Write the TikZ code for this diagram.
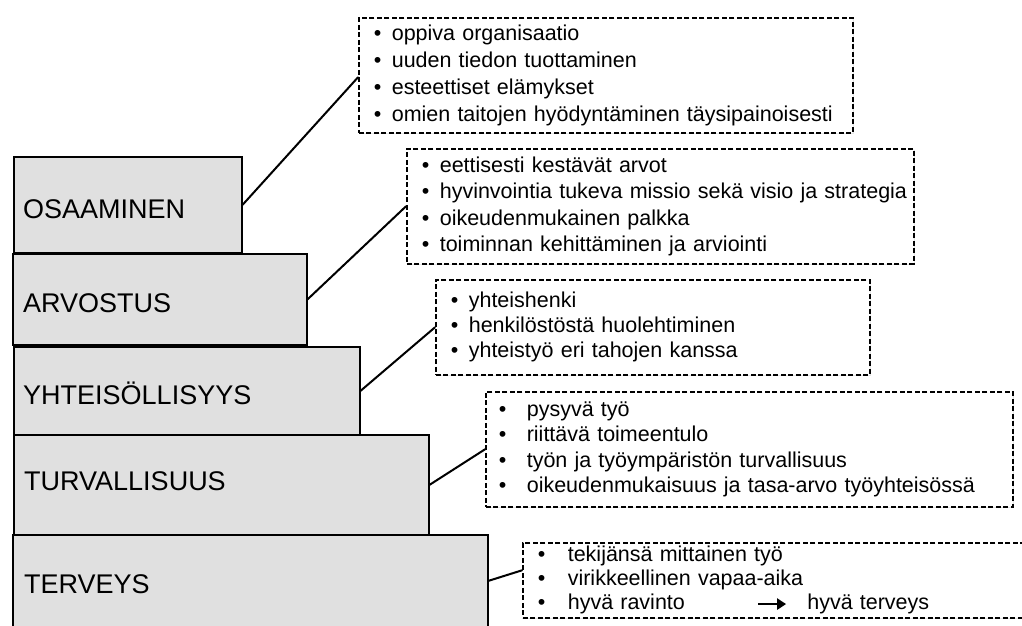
\documentclass[tikz,border=0pt]{standalone}
\usepackage{fontspec}
\setmainfont{Liberation Sans}
\usetikzlibrary{shadows,arrows.meta,calc}
\definecolor{boxgray}{RGB}{224,224,224}
\newcommand\blt[2]{\hspace*{#1}\makebox[#2][l]{•}}
\begin{document}
\begin{tikzpicture}[x=1pt,y=-1pt,
  levelbox/.style={draw=black,line width=1.6pt,fill=boxgray,anchor=north west,inner sep=0pt,
    drop shadow={shadow xshift=1.5pt,shadow yshift=-1.5pt,opacity=0.3}},
  levellabel/.style={anchor=base west,inner sep=0pt,font=\fontsize{27}{32}\selectfont},
  listbox/.style={draw=black,line width=1.6pt,dash pattern=on 5pt off 2.5pt,fill=white,
    anchor=north west,align=left,inner sep=0pt,
    drop shadow={shadow xshift=1.5pt,shadow yshift=-1.5pt,opacity=0.2}},
  link/.style={line width=2pt,line cap=round}]
\path[use as bounding box] (0,0) rectangle (1022,625);
\clip (0,0) rectangle (1022,625);

% level boxes
\node[levelbox,minimum width=228pt,minimum height=96pt] (osa) at (13,156) {};
\node[levelbox,minimum width=294pt,minimum height=91pt] (arv) at (12,253) {};
\node[levelbox,minimum width=346pt,minimum height=88pt] (yht) at (13,346) {};
\node[levelbox,minimum width=415pt,minimum height=100pt] (tur) at (13,434) {};
\node[levelbox,minimum width=475pt,minimum height=100pt] (ter) at (12,534) {};

\node[levellabel] (osaL) at (23,218) {OSAAMINEN};
\node[levellabel] (arvL) at (23,312) {ARVOSTUS};
\node[levellabel] (yhtL) at (23,404) {YHTEISÖLLISYYS};
\node[levellabel] (turL) at (24,490) {TURVALLISUUS};
\node[levellabel] (terL) at (24,593) {TERVEYS};

% list boxes
\node[listbox,minimum width=494pt,minimum height=115pt,text width=494pt,
  font=\fontsize{21.5}{27}\selectfont] (b1) at (358,17)
  {\blt{15pt}{18pt}oppiva organisaatio\\
   \blt{15pt}{18pt}uuden tiedon tuottaminen\\
   \blt{15pt}{18pt}esteettiset elämykset\\
   \blt{15pt}{18pt}omien taitojen hyödyntäminen täysipainoisesti};

\node[listbox,minimum width=507pt,minimum height=115pt,text width=507pt,
  font=\fontsize{21.5}{26.5}\selectfont] (b2) at (406,148)
  {\blt{15pt}{18pt}eettisesti kestävät arvot\\
   \blt{15pt}{18pt}hyvinvointia tukeva missio sekä visio ja strategia\\
   \blt{15pt}{18pt}oikeudenmukainen palkka\\
   \blt{15pt}{18pt}toiminnan kehittäminen ja arviointi};

\node[listbox,minimum width=434pt,minimum height=95pt,text width=434pt,
  font=\fontsize{21.5}{25}\selectfont] (b3) at (435,279)
  {\blt{15pt}{18pt}yhteishenki\\
   \blt{15pt}{18pt}henkilöstöstä huolehtiminen\\
   \blt{15pt}{18pt}yhteistyö eri tahojen kanssa};

\node[listbox,minimum width=527pt,minimum height=115pt,text width=527pt,
  font=\fontsize{21.5}{25.5}\selectfont] (b4) at (485,391)
  {\blt{13pt}{28pt}pysyvä työ\\
   \blt{13pt}{28pt}riittävä toimeentulo\\
   \blt{13pt}{28pt}työn ja työympäristön turvallisuus\\
   \blt{13pt}{28pt}oikeudenmukaisuus ja tasa-arvo työyhteisössä};

\node[listbox,minimum width=540pt,minimum height=75pt,text width=540pt,
  font=\fontsize{21.5}{24}\selectfont] (b5) at (522,542)
  {\blt{15pt}{30pt}tekijänsä mittainen työ\\
   \blt{15pt}{30pt}virikkeellinen vapaa-aika\\
   \blt{15pt}{30pt}hyvä ravinto\hspace{72pt}\tikz[baseline={(0pt,-0.27em)}]\draw[solid,line width=2.4pt,-{Triangle[length=9pt,width=11pt]}] (0pt,0pt)--(28pt,0pt);\hspace{20pt}hyvä terveys};

% connectors
\draw[link] (osa.east) -- ($(b1.west)+(0,2)$);
\draw[link] (arv.east) -- (b2.west);
\draw[link] (yht.east) -- (b3.west);
\draw[link] (tur.east) -- (b4.west);
\draw[link] ($(ter.east)+(0,-4)$) -- ($(b5.west)+(0,-10)$);
\end{tikzpicture}
\end{document}
